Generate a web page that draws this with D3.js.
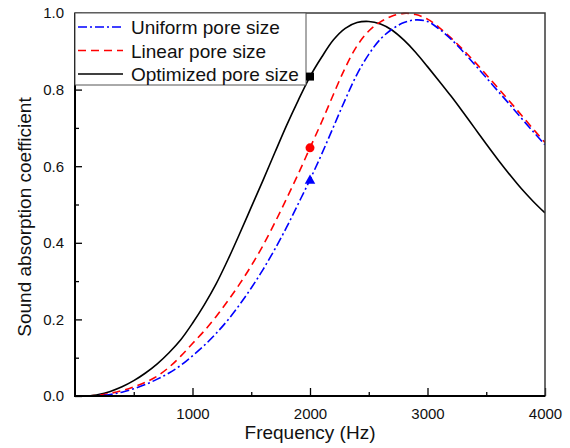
<!DOCTYPE html>
<html>
<head>
<meta charset="utf-8">
<script src="https://cdn.jsdelivr.net/npm/d3@7"></script>
<style>
  body { margin: 0; background: #fff; }
  svg { font-family: "Liberation Sans", Arial, sans-serif; }
</style>
</head>
<body>
<div id="chart"></div>
<script>
  // frequencies (Hz) and absorption coefficients
  var freqs = [100, 200, 300, 400, 500, 600, 700, 800, 900, 1000,
               1100, 1200, 1300, 1400, 1500, 1600, 1700, 1800, 1900, 2000,
               2100, 2200, 2300, 2400, 2500, 2600, 2700, 2800, 2900, 3000,
               3100, 3200, 3300, 3400, 3500, 3600, 3700, 3800, 3900, 4000];

  var uniform = [0.000, 0.001, 0.004, 0.010, 0.019, 0.030, 0.044, 0.060, 0.080, 0.105,
                 0.132, 0.163, 0.198, 0.238, 0.282, 0.330, 0.383, 0.440, 0.502, 0.565,
                 0.632, 0.703, 0.774, 0.840, 0.892, 0.932, 0.958, 0.975, 0.982, 0.978,
                 0.958, 0.932, 0.900, 0.866, 0.831, 0.796, 0.761, 0.725, 0.690, 0.656];

  var linear = [0.000, 0.002, 0.007, 0.014, 0.024, 0.036, 0.052, 0.075, 0.104, 0.137,
                0.170, 0.207, 0.248, 0.292, 0.340, 0.393, 0.452, 0.515, 0.580, 0.648,
                0.716, 0.788, 0.857, 0.914, 0.953, 0.977, 0.992, 0.999, 0.996, 0.984,
                0.962, 0.935, 0.905, 0.873, 0.839, 0.804, 0.769, 0.733, 0.697, 0.662];

  var optimized = [0.000, 0.004, 0.012, 0.024, 0.040, 0.060, 0.084, 0.113, 0.147, 0.190,
                   0.238, 0.292, 0.355, 0.423, 0.493, 0.563, 0.635, 0.706, 0.772, 0.834,
                   0.885, 0.930, 0.960, 0.975, 0.978, 0.971, 0.955, 0.929, 0.897, 0.860,
                   0.822, 0.783, 0.742, 0.700, 0.658, 0.617, 0.578, 0.541, 0.508, 0.478];

  var seriesNames = ["Uniform pore size", "Linear pore size", "Optimized pore size"];
  var markerFreq = 2000;

  var xTicks = [1000, 2000, 3000, 4000];
  var yTicks = [0.0, 0.2, 0.4, 0.6, 0.8, 1.0];

  var width = 570,
      height = 448,
      margin = {left: 75, right: 25, top: 13, bottom: 52};

  var svg = d3.select("#chart")
      .append("svg")
      .attr("width", width)
      .attr("height", height);

  var x = d3.scaleLinear().domain([0, 4000]).range([margin.left, width - margin.right]);
  var y = d3.scaleLinear().domain([0, 1]).range([height - margin.bottom, margin.top]);

  var series = [
    {name: seriesNames[0], values: uniform, color: "#0000ff", dash: "9,3,2,3", marker: "triangle"},
    {name: seriesNames[1], values: linear, color: "#ff0000", dash: "8,5", marker: "circle"},
    {name: seriesNames[2], values: optimized, color: "#000000", dash: null, marker: "square"}
  ];

  svg.append("clipPath").attr("id", "plot-clip")
    .append("rect")
      .attr("x", x(0)).attr("y", y(1) - 1)
      .attr("width", x(4000) - x(0)).attr("height", y(0) - y(1) + 1);

  // minor ticks (inside)
  svg.append("g").attr("transform", "translate(0," + y(0) + ")")
    .call(d3.axisBottom(x).tickValues(d3.range(500, 4001, 1000)).tickSizeInner(-4).tickSizeOuter(0).tickFormat(""))
    .call(function(g) { g.select(".domain").remove(); })
    .selectAll("line").attr("stroke", "#000").attr("stroke-width", 1.3);

  svg.append("g").attr("transform", "translate(0," + y(0) + ")")
    .call(d3.axisBottom(x).tickValues(xTicks).tickSizeInner(-8).tickSizeOuter(0).tickPadding(12).tickFormat(d3.format("d")))
    .call(function(g) { g.select(".domain").remove(); })
    .call(function(g) {
      g.selectAll("line").attr("stroke", "#000").attr("stroke-width", 1.3);
      g.selectAll("text").attr("font-size", 15).attr("font-family", "Liberation Sans, Arial, sans-serif").attr("fill", "#111");
    });

  svg.append("g").attr("transform", "translate(" + x(0) + ",0)")
    .call(d3.axisLeft(y).tickValues(d3.range(0.1, 1.0, 0.2)).tickSizeInner(-4).tickSizeOuter(0).tickFormat(""))
    .call(function(g) { g.select(".domain").remove(); })
    .selectAll("line").attr("stroke", "#000").attr("stroke-width", 1.3);

  svg.append("g").attr("transform", "translate(" + x(0) + ",0)")
    .call(d3.axisLeft(y).tickValues(yTicks).tickSizeInner(-7).tickSizeOuter(0).tickPadding(11).tickFormat(d3.format(".1f")))
    .call(function(g) { g.select(".domain").remove(); })
    .call(function(g) {
      g.selectAll("line").attr("stroke", "#000").attr("stroke-width", 1.3);
      g.selectAll("text").attr("font-size", 15).attr("font-family", "Liberation Sans, Arial, sans-serif").attr("fill", "#111");
    });

  var line = d3.line()
      .x(function(d, i) { return x(freqs[i]); })
      .y(function(d) { return y(d); })
      .curve(d3.curveCatmullRom.alpha(0.5));

  svg.append("g").attr("clip-path", "url(#plot-clip)")
    .selectAll(".curve")
    .data(series.slice().reverse())
  .enter().append("path")
    .attr("class", "curve")
    .attr("d", function(d) { return line(d.values); })
    .attr("fill", "none")
    .attr("stroke", function(d) { return d.color; })
    .attr("stroke-width", 1.6)
    .attr("stroke-dasharray", function(d) { return d.dash; });

  // frame
  svg.append("rect")
    .attr("x", x(0)).attr("y", y(1))
    .attr("width", x(4000) - x(0)).attr("height", y(0) - y(1))
    .attr("fill", "none").attr("stroke", "#3a3a3a").attr("stroke-width", 1.5);
  svg.append("path")
    .attr("d", "M" + x(0) + "," + y(1) + "V" + y(0) + "H" + x(4000))
    .attr("fill", "none").attr("stroke", "#000").attr("stroke-width", 2);

  // legend
  var lg = svg.append("g");
  lg.append("rect")
    .attr("x", x(0)).attr("y", y(1))
    .attr("width", 231).attr("height", 72)
    .attr("fill", "#fff").attr("stroke", "#555").attr("stroke-width", 1);
  series.forEach(function(s, i) {
    var cy = y(1) + 14 + i * 23.5;
    lg.append("line")
      .attr("x1", x(0) + 3).attr("x2", x(0) + 48)
      .attr("y1", cy).attr("y2", cy)
      .attr("stroke", s.color).attr("stroke-width", 1.6)
      .attr("stroke-dasharray", s.dash);
    lg.append("text")
      .attr("x", x(0) + 56).attr("y", cy + 7)
      .attr("font-size", 19).attr("fill", "#111")
      .text(s.name);
  });

  // markers at 2000 Hz
  var mi = freqs.indexOf(markerFreq);
  series.forEach(function(s) {
    var mx = x(markerFreq), my = y(s.values[mi]);
    if (s.marker === "square") {
      svg.append("rect").attr("x", mx - 4).attr("y", my - 4).attr("width", 8).attr("height", 8).attr("fill", s.color);
    } else if (s.marker === "circle") {
      svg.append("circle").attr("cx", mx).attr("cy", my).attr("r", 4.5).attr("fill", s.color);
    } else {
      svg.append("path").attr("d", d3.symbol(d3.symbolTriangle, 48)()).attr("transform", "translate(" + mx + "," + (my + 1) + ")").attr("fill", s.color);
    }
  });

  // axis titles
  svg.append("text")
    .attr("x", x(2000)).attr("y", 439)
    .attr("text-anchor", "middle").attr("font-size", 19).attr("fill", "#111")
    .text("Frequency (Hz)");
  svg.append("text")
    .attr("transform", "translate(31," + 217 + ") rotate(-90)")
    .attr("text-anchor", "middle").attr("font-size", 19).attr("fill", "#111")
    .text("Sound absorption coefficient");
</script>
</body>
</html>
